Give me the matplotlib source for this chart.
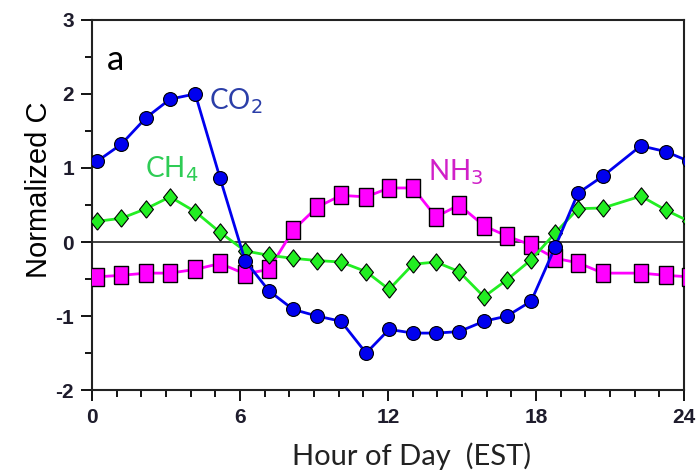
import numpy as np
import matplotlib
matplotlib.use("Agg")
import matplotlib.pyplot as plt
from matplotlib.ticker import MultipleLocator

plt.rcParams['axes.unicode_minus'] = False

# sampling times (hour of day) and normalized diurnal profiles
hours = [0.20, 1.18, 2.19, 3.16, 4.18, 5.19, 6.20, 7.17, 8.15, 9.12, 10.09, 11.11,
         12.04, 13.01, 13.94, 14.88, 15.89, 16.82, 17.80, 18.77, 19.70, 20.71, 22.25, 23.27]
co2 = [1.09, 1.32, 1.68, 1.93, 2.00, 0.86, -0.25, -0.66, -0.91, -1.00, -1.07, -1.50,
       -1.18, -1.23, -1.23, -1.21, -1.07, -1.00, -0.80, -0.07, 0.66, 0.89, 1.30, 1.22]
ch4 = [0.28, 0.32, 0.45, 0.61, 0.41, 0.13, -0.12, -0.18, -0.22, -0.25, -0.27, -0.40,
       -0.64, -0.30, -0.27, -0.40, -0.74, -0.51, -0.24, 0.12, 0.45, 0.46, 0.62, 0.43]
nh3 = [-0.47, -0.45, -0.42, -0.42, -0.37, -0.29, -0.43, -0.37, 0.16, 0.47, 0.63, 0.61,
       0.73, 0.73, 0.34, 0.50, 0.22, 0.08, -0.04, -0.22, -0.28, -0.42, -0.42, -0.45]

xticks = [0, 6, 12, 18, 24]
yticks = [-2, -1, 0, 1, 2, 3]

# wrap the first sample onto the next day so lines run to the right edge
hx = hours + [hours[0] + 24]
def wrap(s):
    return s + [s[0]]

tick_color = '#1e1c2c'
tick_font = dict(family='Liberation Sans', fontweight='bold', fontsize=15, color=tick_color)
square = [(-0.75, -1), (0.75, -1), (0.75, 1), (-0.75, 1), (-0.75, -1)]
diamond = [(0, -1), (0.8, 0), (0, 1), (-0.8, 0), (0, -1)]

fig = plt.figure(figsize=(6.98, 4.74), dpi=100)
ax = fig.add_axes([0.132, 0.177, 0.848, 0.781])

ax.axhline(0, color='#333333', lw=1.3, zorder=1)

ax.plot(hx, wrap(nh3), color='#ff00ff', lw=2, marker=square, ms=13,
        mfc='#ff00ff', mec='black', mew=1.0, zorder=3)
ax.plot(hx, wrap(ch4), color='#22ee22', lw=2, marker=diamond, ms=12.5,
        mfc='#22ee22', mec='black', mew=0.8, zorder=4)
ax.plot(hx, wrap(co2), color='#0000ee', lw=2, marker='o', ms=10,
        mfc='#0000ee', mec='black', mew=0.8, zorder=5)

ax.set_xlim(0, 24)
ax.set_ylim(-2, 3)
ax.set_xticks(xticks)
ax.set_xticklabels([str(t) for t in xticks], **tick_font)
ax.set_yticks(yticks)
ax.set_yticklabels([str(t) for t in yticks], **tick_font)
ax.xaxis.set_minor_locator(MultipleLocator(1))
ax.yaxis.set_minor_locator(MultipleLocator(0.5))
ax.tick_params(which='major', direction='out', length=8, width=1.3, colors='black', pad=5)
ax.tick_params(which='minor', direction='out', length=5, width=1.3, colors='black')
for lab in ax.get_xticklabels() + ax.get_yticklabels():
    lab.set_color(tick_color)
for sp in ax.spines.values():
    sp.set_linewidth(1.5)
    sp.set_color('#222222')

ax.set_xlabel('Hour of Day  (EST)', fontsize=21, family='Lato', color='#222222')
ax.xaxis.set_label_coords(0.54, -0.14)
ax.set_ylabel('Normalized C', fontsize=21, family='Liberation Sans', color='black')
ax.yaxis.set_label_coords(-0.066, 0.54)

ax.text(0.025, 0.865, 'a', transform=ax.transAxes, fontsize=25, family='Lato', color='black')
ax.text(4.75, 1.8, 'CO$_2$', fontsize=20, family='Lato', color='#2b3ea8')
ax.text(2.15, 0.88, 'CH$_4$', fontsize=20, family='Lato', color='#2ecc55')
ax.text(13.6, 0.84, 'NH$_3$', fontsize=20, family='Lato', color='#d020c8')

fig.savefig('out.png', dpi=100)
